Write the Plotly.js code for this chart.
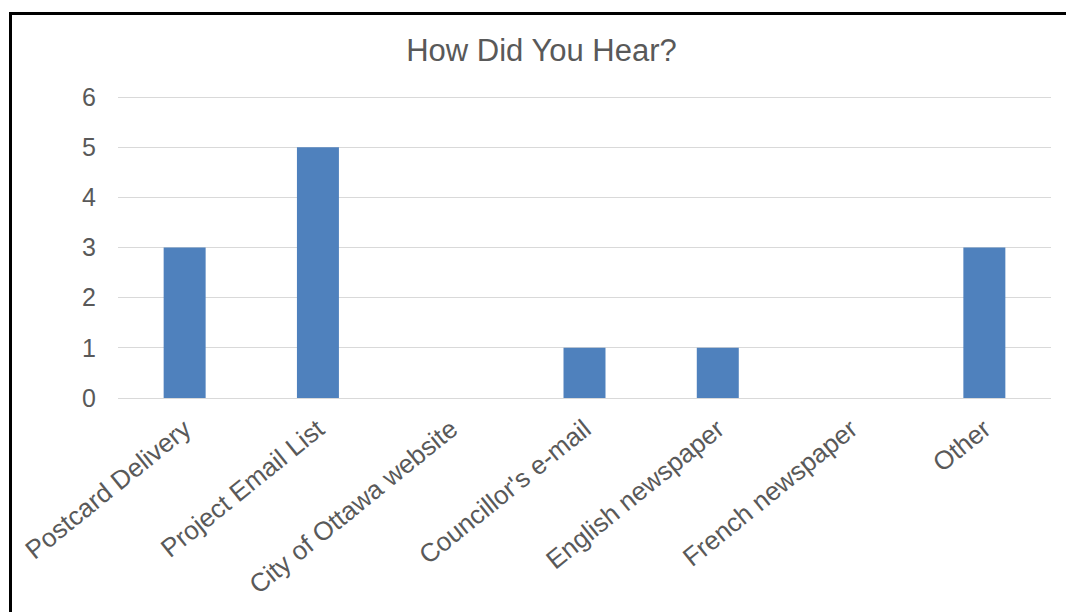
<!DOCTYPE html>
<html>
<head>
<meta charset="utf-8">
<script src="https://cdn.plot.ly/plotly-3.0.1.min.js"></script>
<style>
  html, body { margin: 0; padding: 0; background: #ffffff; }
  #frame {
    position: absolute; left: 0; top: 0; width: 1066px; height: 612px; overflow: hidden;
  }
  #edge {
    position: absolute; left: 9px; top: 12px; width: 1100px; height: 700px;
    border-left: 3px solid #000; border-top: 3px solid #000; pointer-events: none;
  }
  #chart { position: absolute; left: 0; top: 0; width: 1066px; height: 612px; }
</style>
</head>
<body>
<div id="frame">
  <div id="chart"></div>
  <div id="edge"></div>
</div>
<script>
// Survey answers: how respondents heard about the project
const categories = [
  'Postcard Delivery',
  'Project Email List',
  'City of Ottawa website',
  "Councillor's e-mail",
  'English newspaper',
  'French newspaper',
  'Other'
];
const responses = [3, 5, 0, 1, 1, 0, 3];
const yTicks = [0, 1, 2, 3, 4, 5, 6];

const textGray = '#595959';
const fontFamily = '"Liberation Sans", Arial, sans-serif';

const trace = {
  type: 'bar',
  x: categories,
  y: responses,
  marker: { color: '#4f81bd', line: { width: 0 } },
  hoverinfo: 'x+y'
};

const layout = {
  width: 1066,
  height: 612,
  paper_bgcolor: 'rgba(0,0,0,0)',
  plot_bgcolor: 'rgba(0,0,0,0)',
  margin: { l: 118, r: 15, t: 95, b: 214 },
  bargap: 0.685,
  showlegend: false,
  font: { family: fontFamily, color: textGray, size: 25 },
  title: {
    text: 'How Did You Hear?',
    font: { family: fontFamily, color: textGray, size: 31 },
    x: 541.5 / 1066, xref: 'container', xanchor: 'center',
    y: 1 - 50 / 612, yref: 'container', yanchor: 'middle'
  },
  xaxis: {
    type: 'category',
    tickangle: -39,
    tickfont: { family: fontFamily, color: textGray, size: 26 },
    showgrid: false,
    showline: false,
    zeroline: false,
    ticks: '',
    ticklabelstandoff: 10
  },
  yaxis: {
    // a little headroom so the gridline at 6 is kept
    range: [0, 6.04],
    tickmode: 'array',
    tickvals: yTicks,
    ticktext: yTicks.map(String),
    tickfont: { family: fontFamily, color: textGray, size: 25 },
    showgrid: true,
    gridcolor: '#d9d9d9',
    gridwidth: 1,
    zeroline: true,
    zerolinecolor: '#d9d9d9',
    zerolinewidth: 1,
    showline: false,
    ticks: '',
    ticklabelstandoff: 21
  }
};

Plotly.newPlot('chart', [trace], layout, { staticPlot: true, displayModeBar: false });
</script>
</body>
</html>
